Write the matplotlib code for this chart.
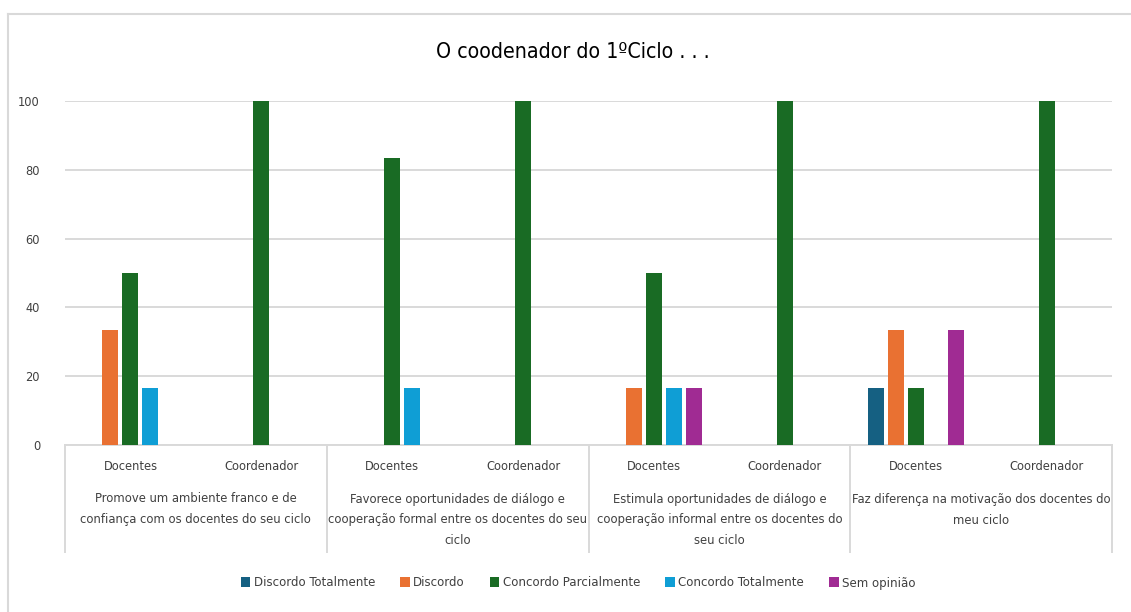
import numpy as np
import matplotlib
matplotlib.use("Agg")
import matplotlib.pyplot as plt
from matplotlib import font_manager
from matplotlib.patches import Patch
from matplotlib.lines import Line2D

# pick a narrow sans-serif face when one is available
_names = {(f.name, f.stretch) for f in font_manager.fontManager.ttflist}
if any(n == "Liberation Sans Narrow" for n, _ in _names):
    FAMILY, STRETCH = "Liberation Sans Narrow", "normal"
elif ("DejaVu Sans", "condensed") in _names:
    FAMILY, STRETCH = "DejaVu Sans", "condensed"
elif any(n == "Roboto" for n, _ in _names):
    FAMILY, STRETCH = "Roboto", "normal"
else:
    FAMILY, STRETCH = "DejaVu Sans", "normal"
plt.rcParams['font.family'] = [FAMILY, 'DejaVu Sans']
plt.rcParams['font.stretch'] = STRETCH

title = "O coodenador do 1ºCiclo . . ."
roles = ["Docentes", "Coordenador"] * 4
groups = [
    "Promove um ambiente franco e de\nconfiança com os docentes do seu ciclo",
    "Favorece oportunidades de diálogo e\ncooperação formal entre os docentes do seu\nciclo",
    "Estimula oportunidades de diálogo e\ncooperação informal entre os docentes do\nseu ciclo",
    "Faz diferença na motivação dos docentes do\nmeu ciclo",
]
series = ["Discordo Totalmente", "Discordo", "Concordo Parcialmente",
          "Concordo Totalmente", "Sem opinião"]
colors = ["#156082", "#E97132", "#196B24", "#0F9ED5", "#A02B93"]
yticks = [0, 20, 40, 60, 80, 100]

discordo_totalmente = [0, 0, 0, 0, 0, 0, 16.67, 0]
discordo = [33.33, 0, 0, 0, 16.67, 0, 33.33, 0]
concordo_parcialmente = [50, 100, 83.33, 100, 50, 100, 16.67, 100]
concordo_totalmente = [16.67, 0, 16.67, 0, 16.67, 0, 0, 0]
sem_opiniao = [0, 0, 0, 0, 16.67, 0, 33.33, 0]
values = [discordo_totalmente, discordo, concordo_parcialmente,
          concordo_totalmente, sem_opiniao]

W, H = 1131, 612
fig = plt.figure(figsize=(W / 100, H / 100), dpi=100)
fig.patch.set_facecolor("white")
renderer = fig.canvas.get_renderer()


def fit_size(text, target_px, base=12.0):
    """Font size at which `text` spans target_px pixels."""
    t = fig.text(0, 0, text, fontsize=base)
    w = t.get_window_extent(renderer).width
    t.remove()
    return base * target_px / w


fs_axis = fit_size("Coordenador", 75)
fs_group = fit_size("Faz diferença na motivação dos docentes do", 258)
fs_legend = fit_size("Discordo Totalmente", 121)
fs_title = fit_size(title, 275)

# outer chart border (left and top edges visible)
fig.add_artist(Line2D([7.5 / W, 7.5 / W], [0, 1 - 13.5 / H], transform=fig.transFigure,
                      color="#D9D9D9", lw=1.5))
fig.add_artist(Line2D([7.5 / W, 1], [1 - 13.5 / H, 1 - 13.5 / H], transform=fig.transFigure,
                      color="#D9D9D9", lw=1.5))

left, right, top, bottom = 65, 1112, 101, 445
ax = fig.add_axes([left / W, 1 - bottom / H, (right - left) / W, (bottom - top) / H])

n = len(roles)
x = np.arange(n)
slot = 0.153
bw = 0.122
for k, (name, vals, c) in enumerate(zip(series, values, colors)):
    v = np.array(vals, dtype=float)
    mask = v > 0
    ax.bar(x[mask] + (k - 2) * slot, v[mask], width=bw, color=c, linewidth=0, zorder=3)

ax.set_xlim(-0.5, n - 0.5)
ax.set_ylim(0, 100)
ax.set_yticks(yticks)
ax.yaxis.grid(True, color="#D9D9D9", lw=1.4, zorder=0)
ax.set_axisbelow(True)
for s in ["left", "right", "top"]:
    ax.spines[s].set_visible(False)
ax.spines["bottom"].set_color("#D9D9D9")
ax.spines["bottom"].set_linewidth(1.4)
ax.tick_params(axis="y", length=0, labelsize=fs_axis, labelcolor="#404040", pad=18)
ax.set_xticks([])

# two-level category axis drawn below the plot
ax_h = bottom - top


def ay(py):
    return (bottom - py) / ax_h


xt = ax.get_xaxis_transform()
sep_bottom = 552
for gx in [-0.5, 1.5, 3.5, 5.5, 7.5]:
    ax.plot([gx, gx], [0, ay(sep_bottom)], transform=xt,
            color="#D9D9D9", lw=1.4, clip_on=False)
for i, r in enumerate(roles):
    ax.text(i, ay(466), r, transform=xt, ha="center", va="center",
            fontsize=fs_axis, color="#404040")
line_y = [499, 520, 541]
for g, lab in enumerate(groups):
    for j, line in enumerate(lab.split("\n")):
        ax.text(2 * g + 0.5, ay(line_y[j]), line, transform=xt, ha="center",
                va="center", fontsize=fs_group, color="#404040")

fig.text(573 / W, 1 - 52 / H, title, ha="center", va="center", fontsize=fs_title,
         color="black")

handles = [Patch(facecolor=c, edgecolor="none") for c in colors]
fig.legend(handles, series, loc="center", bbox_to_anchor=(578 / W, 1 - 583 / H), ncol=5,
           frameon=False, fontsize=fs_legend, handlelength=0.75, handleheight=0.75,
           handletextpad=0.25, columnspacing=1.9, labelcolor="#404040")

fig.savefig("out.png", dpi=100, facecolor="white")
